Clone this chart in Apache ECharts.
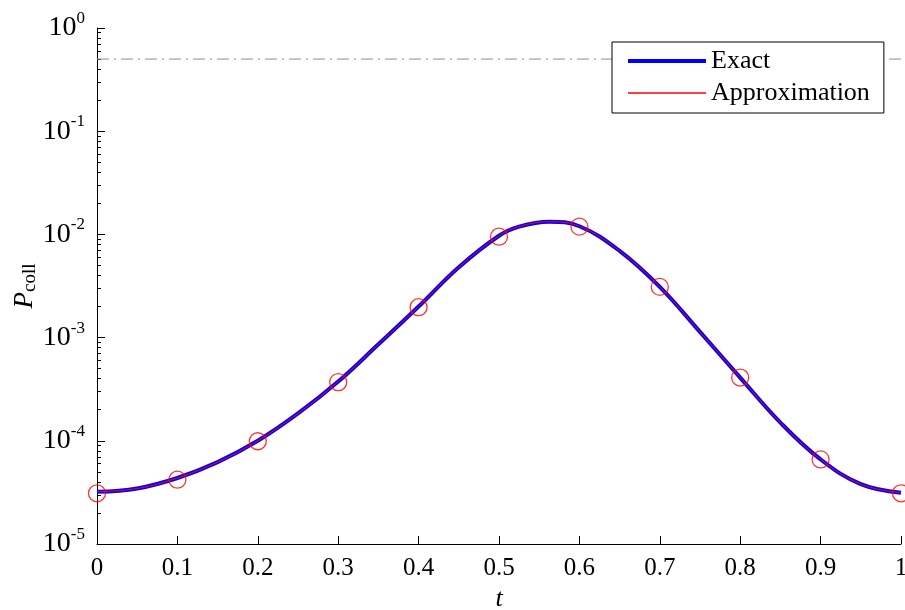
<!DOCTYPE html>
<html>
<head>
<meta charset="utf-8">
<script src="https://cdn.jsdelivr.net/npm/echarts@6/dist/echarts.min.js"></script>
<style>html,body{margin:0;padding:0;background:#fff}#c{width:905px;height:610px}</style>
</head>
<body>
<div id="c"></div>
<script>
// Curve samples (t, P_coll)
var tCurve = [0, 0.05, 0.1, 0.15, 0.2, 0.25, 0.3, 0.35, 0.4, 0.45, 0.5, 0.525, 0.5625, 0.6, 0.65, 0.7, 0.75, 0.8, 0.85, 0.9, 0.95, 1.0];
var pExact = [3.2e-5, 3.45e-5, 4.36e-5, 6.22e-5, 1.0e-4, 1.84e-4, 3.75e-4, 8.61e-4, 2.0e-3, 4.8e-3, 9.7e-3, 1.19e-2, 1.327e-2, 1.20e-2, 6.92e-3, 3.1e-3, 1.135e-3, 4.1e-4, 1.5e-4, 6.6e-5, 3.8e-5, 3.14e-5];
var pApprox = [3.2e-5, 3.45e-5, 4.36e-5, 6.22e-5, 1.0e-4, 1.84e-4, 3.75e-4, 8.61e-4, 2.0e-3, 4.8e-3, 9.7e-3, 1.19e-2, 1.327e-2, 1.20e-2, 6.92e-3, 3.1e-3, 1.135e-3, 4.1e-4, 1.5e-4, 6.6e-5, 3.8e-5, 3.14e-5];
// Circle markers
var tMarks = [0, 0.1, 0.2, 0.3, 0.4, 0.5, 0.6, 0.7, 0.8, 0.9, 1.0];
var pMarks = [3.1e-5, 4.2e-5, 9.9e-5, 3.7e-4, 1.97e-3, 9.5e-3, 1.19e-2, 3.1e-3, 4.1e-4, 6.6e-5, 3.1e-5];
// Reference level
var refLevel = 0.5;
var seriesNames = ['Exact', 'Approximation'];
var yDecades = [-5, -4, -3, -2, -1, 0];

var minorTicks = [];
for (var d = 0; d < yDecades.length - 1; d++) {
  for (var m = 2; m <= 9; m++) minorTicks.push(m * Math.pow(10, yDecades[d]));
}
function zip(a, b) { return a.map(function (v, i) { return [v, b[i]]; }); }

var FONT = 'Liberation Serif';
var chart = echarts.init(document.getElementById('c'), null, {renderer: 'canvas'});
chart.setOption({
  animation: false,
  backgroundColor: '#fff',
  grid: {left: 97, right: 4, top: 28, bottom: 66, containLabel: false, outerBoundsMode: 'none'},
  legend: {
    data: [
      {name: seriesNames[0], icon: 'path://M0,0H78V4H0Z'},
      {name: seriesNames[1], icon: 'path://M0,0H78V1.4H0Z'}
    ],
    orient: 'vertical',
    left: 612, top: 42,
    itemWidth: 78, itemHeight: 14, itemGap: 6,
    padding: [6, 14, 7, 16],
    borderColor: '#000', borderWidth: 1, borderRadius: 0,
    backgroundColor: '#fff',
    textStyle: {fontFamily: FONT, fontSize: 26, color: '#000', lineHeight: 26}
  },
  xAxis: {
    type: 'value', min: 0, max: 1, interval: 0.1,
    name: 't', nameLocation: 'middle', nameGap: 38,
    nameTextStyle: {fontFamily: FONT, fontSize: 26, fontStyle: 'italic', color: '#000'},
    axisLine: {lineStyle: {color: '#000', width: 1}},
    axisTick: {inside: true, length: 8, lineStyle: {color: '#000'}},
    axisLabel: {fontFamily: FONT, fontSize: 25, color: '#000', margin: 12,
      formatter: function (v) { return (v === 0 || v === 1) ? String(v) : v.toFixed(1); }},
    splitLine: {show: false}
  },
  yAxis: [{
    type: 'log', logBase: 10, min: 1e-5, max: 1, interval: 1,
    name: '{i|P}{s|coll}', nameLocation: 'middle', nameGap: 57, nameRotate: 90, nameMoveOverlap: false,
    nameTextStyle: {fontFamily: FONT, color: '#000',
      rich: {
        i: {fontFamily: FONT, fontSize: 27, fontStyle: 'italic', lineHeight: 30, color: '#000'},
        s: {fontFamily: FONT, fontSize: 19, lineHeight: 17, verticalAlign: 'bottom', color: '#000'}
      }},
    axisLine: {show: true, lineStyle: {color: '#000', width: 1}},
    axisTick: {inside: true, length: 8, lineStyle: {color: '#000'}},
    axisLabel: {margin: 12,
      formatter: function (v) { return '{b|10}{e|' + Math.round(Math.log10(v)) + '}'; },
      rich: {
        b: {fontFamily: FONT, fontSize: 28, lineHeight: 36, color: '#000'},
        e: {fontFamily: FONT, fontSize: 17, lineHeight: 17, verticalAlign: 'top', color: '#000'}
      }},
    splitLine: {show: false}
  }, {
    type: 'log', logBase: 10, min: 1e-5, max: 1, position: 'left',
    axisLine: {show: false},
    axisTick: {show: true, inside: true, length: 4, customValues: minorTicks, lineStyle: {color: '#000'}},
    axisLabel: {show: false},
    splitLine: {show: false}
  }],
  series: [{
    name: 'Ref', type: 'line', data: [[0, refLevel], [1, refLevel]],
    symbol: 'none', silent: true,
    lineStyle: {color: '#8c8c8c', width: 1, type: [12, 5, 2, 5]}, z: 1
  }, {
    name: 'Exact', type: 'line', data: zip(tCurve, pExact), smooth: 0.4,
    symbol: 'none', lineStyle: {color: '#0000ff', width: 4}, itemStyle: {color: '#0000ff'}, z: 2
  }, {
    name: 'Approximation', type: 'line', data: zip(tCurve, pApprox), smooth: 0.4,
    symbol: 'none', lineStyle: {color: '#ff0000', width: 1}, itemStyle: {color: '#ff0000'}, z: 3
  }, {
    name: 'Marks', type: 'scatter', data: zip(tMarks, pMarks),
    symbol: 'circle', symbolSize: 17,
    itemStyle: {color: 'none', borderColor: '#ff0000', borderWidth: 1.3}, z: 4
  }]
});
</script>
</body>
</html>
